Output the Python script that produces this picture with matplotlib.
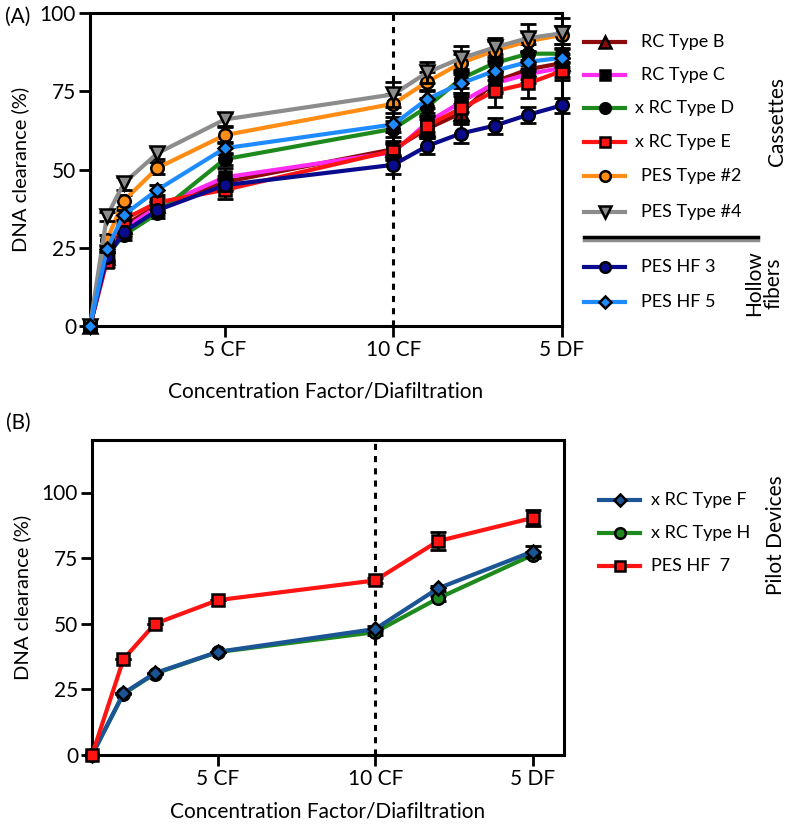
import numpy as np
import matplotlib
matplotlib.use("Agg")
import matplotlib.pyplot as plt
from matplotlib.lines import Line2D

plt.rcParams['font.family'] = ['Lato', 'DejaVu Sans']

W, H = 791, 825

# ---- panel A data ----
x_a = [1, 1.5, 2, 3, 5, 10, 11, 12, 13, 14, 15]
rc_b = [0, 22, 32, 38.5, 46, 56.5, 63, 68, 78, 82, 84]
rc_c = [0, 22, 31, 38, 47.5, 55.5, 65, 71.5, 77.5, 80.5, 82.5]
xrc_d = [0, 22.5, 29, 36, 53.3, 63, 70, 79, 84, 87, 87]
xrc_e = [0, 20.5, 34, 39.5, 43.5, 56, 64, 69.5, 75, 77.5, 81.5]
pes_2 = [0, 27.5, 40, 50.5, 61, 71, 78, 84, 88, 91, 93]
pes_4 = [0, 35, 45.6, 55.2, 66, 74, 81, 85.5, 89, 92, 93.5]
hf_3 = [0, 22, 30, 37, 45, 51.5, 57.5, 61.5, 64, 67.5, 70.5]
hf_5 = [0, 24.5, 35.5, 43.5, 56.8, 64.4, 72.5, 77.5, 81.5, 84.4, 85.7]

err_b = [0, 1.5, 2, 1.5, 2, 2.5, 3, 3, 3, 3, 3]
err_c = [0, 1.5, 2, 1.5, 3, 2.5, 3, 3, 3, 3, 3]
err_d = [0, 1.5, 1.5, 1.5, 2, 2.5, 3, 3, 3, 3, 3]
err_e = [0, 1.5, 2, 1.5, 3, 2.5, 3, 4, 5, 4.5, 3]
err_2 = [0, 1.5, 2, 2, 2.5, 3, 3, 3, 3, 3, 3]
err_4 = [0, 1.5, 2, 2, 2, 4, 3.5, 4, 3, 4.5, 5]
err_h3 = [0, 1, 1.5, 1.5, 2, 3, 2.5, 3, 2.5, 2.5, 2.5]
err_h5 = [0, 1, 1.5, 1.5, 2, 2.5, 3, 3, 3, 3, 3]

ticks_a = [5, 10, 15]
ticklabels = ['5 CF', '10 CF', '5 DF']

# ---- panel B data ----
x_b = [1, 2, 3, 5, 10, 12, 15]
xrc_f = [0, 23.5, 31.2, 39.3, 48, 63.5, 77.5]
xrc_h = [0, 23.3, 31, 39.2, 46.8, 59.7, 76.2]
pes_hf7 = [0, 36.5, 50, 59, 66.5, 81.5, 90.3]
err_f = [0, 0, 0, 0, 1, 1, 2]
err_hh = [0, 0, 0, 0, 1, 1, 1]
err_7 = [0, 0, 0, 0, 1, 3.5, 3]

# series in draw order: label, values, errors, line color, marker, face color
series_a = [
    ('RC Type B', rc_b, err_b, '#8b0a0a', '^', '#8b0a0a'),
    ('RC Type C', rc_c, err_c, '#ff2bf0', 's', 'black'),
    ('x RC Type D', xrc_d, err_d, '#1e8a1e', 'o', 'black'),
    ('x RC Type E', xrc_e, err_e, '#ff1414', 's', '#ff1414'),
    ('PES HF 3', hf_3, err_h3, '#0a0a8c', 'o', '#0a0a8c'),
    ('PES Type #2', pes_2, err_2, '#ff8c14', 'o', '#ff8c14'),
    ('PES Type #4', pes_4, err_4, '#8c8c8c', 'v', '#8c8c8c'),
    ('PES HF 5', hf_5, err_h5, '#1e8cff', 'D', '#1e8cff'),
]
legend_a = ['RC Type B', 'RC Type C', 'x RC Type D', 'x RC Type E',
            'PES Type #2', 'PES Type #4', None, 'PES HF 3', 'PES HF 5']

series_b = [
    ('x RC Type H', xrc_h, err_hh, '#1e8a1e', 'o', '#1e8a1e'),
    ('x RC Type F', xrc_f, err_f, '#1c5596', 'D', '#1c5596'),
    ('PES HF  7', pes_hf7, err_7, '#ff1414', 's', '#ff1414'),
]
legend_b = ['x RC Type F', 'x RC Type H', 'PES HF  7']

FS = 15
msize = {'o': 9, 's': 9, '^': 9.5, 'v': 9.5, 'D': 7}


def fx(px):
    return px / W


def fy(py):
    return 1 - py / H


fig = plt.figure(figsize=(W / 100, H / 100), dpi=100)


def style_axes(ax, xlim, ylim, yticks):
    ax.set_xlim(*xlim)
    ax.set_ylim(*ylim)
    ax.set_xticks(ticks_a)
    ax.set_xticklabels(ticklabels, fontsize=FS)
    ax.set_yticks(yticks)
    ax.set_yticklabels([str(t) for t in yticks], fontsize=FS)
    ax.tick_params(direction='out', length=8, width=2, pad=2)
    for s in ax.spines.values():
        s.set_linewidth(2.2)
    ax.axvline(10, color='black', lw=2.2, ls=(0, (2, 2)), zorder=1)
    ax.set_ylabel('DNA clearance (%)', fontsize=FS - 0.5, va='center')
    ax.set_xlabel('Concentration Factor/Diafiltration', fontsize=FS, va='center')


def draw(ax, x, series):
    for i, (lab, vals, errs, col, mk, fc) in enumerate(series):
        ax.errorbar(x, vals, yerr=errs, fmt='none', ecolor='black',
                    elinewidth=2, capsize=6, capthick=2, zorder=2 + 2 * i,
                    clip_on=False)
        ax.plot(x, vals, color=col, lw=3, marker=mk, markersize=msize[mk],
                markerfacecolor=fc, markeredgecolor='black',
                markeredgewidth=1.8, zorder=3 + 2 * i, clip_on=False)


# ---- panel A ----
axA = fig.add_axes([fx(90), fy(326), fx(562) - fx(90), fy(13) - fy(326)])
draw(axA, x_a, series_a)
style_axes(axA, (1, 15), (0, 100), [0, 25, 50, 75, 100])
axA.xaxis.set_label_coords(0.5, -66 / 313)
axA.yaxis.set_label_coords(-70 / 472, 0.5)

# ---- panel B ----
axB = fig.add_axes([fx(92), fy(755), fx(564) - fx(92), fy(440) - fy(755)])
draw(axB, x_b, series_b)
style_axes(axB, (1, 16), (0, 120), [0, 25, 50, 75, 100])
axB.xaxis.set_label_coords(0.5, -57 / 315)
axB.yaxis.set_label_coords(-70 / 472, 0.5)

# ---- legends and side labels ----
style_a = {s[0]: s for s in series_a}
style_b = {s[0]: s for s in series_b}


def legend_entry(lab, st, y, x0, x1, xt):
    _, _, _, col, mk, fc = st
    fig.add_artist(Line2D([fx(x0), fx(x1)], [fy(y), fy(y)], color=col, lw=3,
                          transform=fig.transFigure))
    fig.add_artist(Line2D([fx((x0 + x1) / 2)], [fy(y)], marker=mk,
                          markersize=msize[mk] * 0.85, markerfacecolor=fc,
                          markeredgecolor='black', markeredgewidth=1.8,
                          transform=fig.transFigure))
    fig.text(fx(xt), fy(y), lab, fontsize=13, va='center', ha='left')


ys_a = [42, 75, 108, 142, 176, 212, 237, 267, 302]
for lab, y in zip(legend_a, ys_a):
    if lab is None:
        fig.add_artist(Line2D([fx(584), fx(758)], [fy(y + 2.5), fy(y + 2.5)],
                              color='#8c8c8c', lw=2.5, transform=fig.transFigure))
        fig.add_artist(Line2D([fx(584), fx(758)], [fy(y), fy(y)],
                              color='black', lw=2.5, transform=fig.transFigure))
        continue
    xt = 635 if lab.startswith('x') else 641
    legend_entry(lab, style_a[lab], y, 584, 625, xt)

for lab, y in zip(legend_b, [500, 533, 566]):
    legend_entry(lab, style_b[lab], y, 599, 640, 651)

fig.text(fx(777), fy(122), 'Cassettes', rotation=90, fontsize=FS,
         ha='center', va='center')
fig.text(fx(764), fy(283), 'Hollow\nfibers', rotation=90, fontsize=FS,
         ha='center', va='center', linespacing=0.95)
fig.text(fx(776), fy(535), 'Pilot Devices', rotation=90, fontsize=FS,
         ha='center', va='center')

fig.text(fx(18), fy(17), '(A)', fontsize=FS, ha='center', va='center')
fig.text(fx(18), fy(423), '(B)', fontsize=FS, ha='center', va='center')

fig.savefig('out.png', dpi=100)
